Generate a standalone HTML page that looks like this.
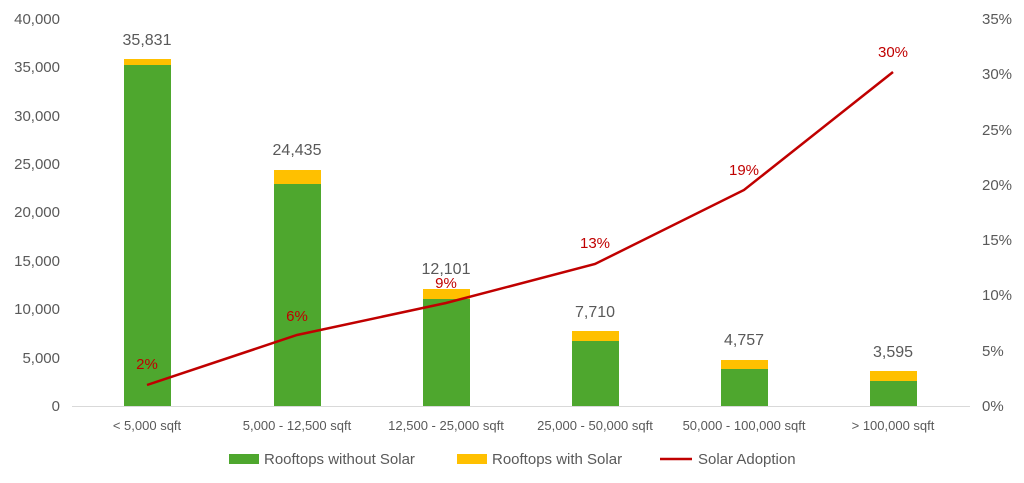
<!DOCTYPE html>
<html><head><meta charset="utf-8"><style>
html,body{margin:0;padding:0;background:#fff;}
svg{display:block;font-family:"Liberation Sans",Arial,sans-serif;}
</style></head><body>
<svg width="1024" height="483" xmlns="http://www.w3.org/2000/svg">
<g font-size="15" fill="#595959" text-anchor="end">
<text x="60" y="411">0</text>
<text x="60" y="363">5,000</text>
<text x="60" y="314">10,000</text>
<text x="60" y="266">15,000</text>
<text x="60" y="217">20,000</text>
<text x="60" y="169">25,000</text>
<text x="60" y="121">30,000</text>
<text x="60" y="72">35,000</text>
<text x="60" y="24">40,000</text>
</g>
<g font-size="15" fill="#595959" text-anchor="start">
<text x="982" y="411">0%</text>
<text x="982" y="356">5%</text>
<text x="982" y="300">10%</text>
<text x="982" y="245">15%</text>
<text x="982" y="190">20%</text>
<text x="982" y="135">25%</text>
<text x="982" y="79">30%</text>
<text x="982" y="24">35%</text>
</g>
<line x1="72" y1="406.5" x2="970" y2="406.5" stroke="#d9d9d9"/>
<g>
<rect x="124" y="65" width="47" height="341" fill="#4ea72e"/><rect x="124" y="59" width="47" height="6" fill="#ffc000"/>
<rect x="274" y="184" width="47" height="222" fill="#4ea72e"/><rect x="274" y="170" width="47" height="14" fill="#ffc000"/>
<rect x="423" y="299" width="47" height="107" fill="#4ea72e"/><rect x="423" y="289" width="47" height="10" fill="#ffc000"/>
<rect x="572" y="341" width="47" height="65" fill="#4ea72e"/><rect x="572" y="331" width="47" height="10" fill="#ffc000"/>
<rect x="721" y="369" width="47" height="37" fill="#4ea72e"/><rect x="721" y="360" width="47" height="9" fill="#ffc000"/>
<rect x="870" y="381" width="47" height="25" fill="#4ea72e"/><rect x="870" y="371" width="47" height="10" fill="#ffc000"/>
</g>
<g font-size="16" fill="#595959" text-anchor="middle">
<text x="147" y="45">35,831</text>
<text x="297" y="155">24,435</text>
<text x="446" y="274">12,101</text>
<text x="595" y="317">7,710</text>
<text x="744" y="345">4,757</text>
<text x="893" y="357">3,595</text>
</g>
<polyline points="147,385 297,335 446,303 595,264 744,190 893,72" fill="none" stroke="#c00000" stroke-width="2.5"/>
<g font-size="15" fill="#c00000" text-anchor="middle">
<text x="147" y="369">2%</text>
<text x="297" y="321">6%</text>
<text x="446" y="288">9%</text>
<text x="595" y="248">13%</text>
<text x="744" y="175">19%</text>
<text x="893" y="57">30%</text>
</g>
<g font-size="13" fill="#595959" text-anchor="middle">
<text x="147" y="430">&lt; 5,000 sqft</text>
<text x="297" y="430">5,000 - 12,500 sqft</text>
<text x="446" y="430">12,500 - 25,000 sqft</text>
<text x="595" y="430">25,000 - 50,000 sqft</text>
<text x="744" y="430">50,000 - 100,000 sqft</text>
<text x="893" y="430">&gt; 100,000 sqft</text>
</g>
<g font-size="15" fill="#595959">
<rect x="229" y="454" width="30" height="10" fill="#4ea72e"/><text x="264" y="464">Rooftops without Solar</text>
<rect x="457" y="454" width="30" height="10" fill="#ffc000"/><text x="492" y="464">Rooftops with Solar</text>
<line x1="660" y1="459" x2="692" y2="459" stroke="#c00000" stroke-width="2.5"/><text x="698" y="464">Solar Adoption</text>
</g>
</svg>
</body></html>
